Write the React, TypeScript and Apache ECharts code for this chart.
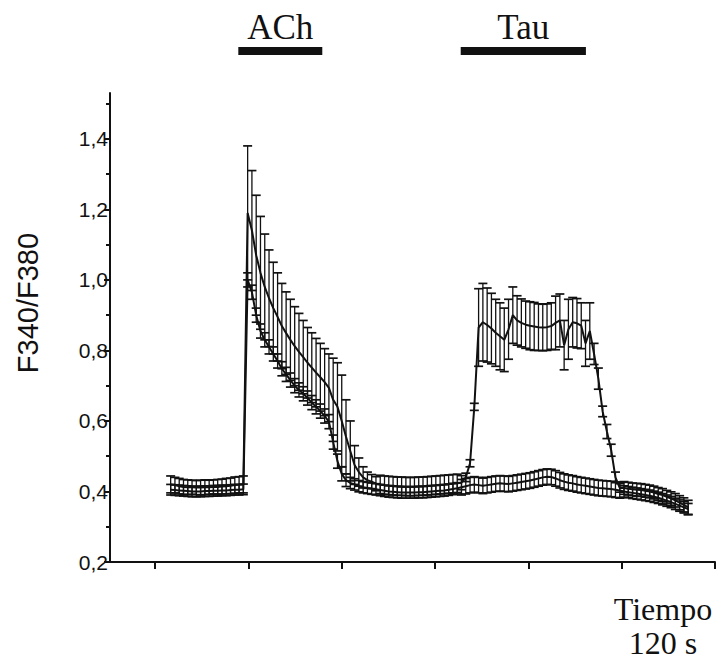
import { useEffect, useRef } from "react";
import * as echarts from "echarts";

// sampling of the recording (seconds)
const SAMPLE_START = 20;
const SAMPLE_STEP = 5.5;

// Cells responding to ACh and Tau: mean and SEM
const aMean = [
  0.420, 0.418, 0.415, 0.413, 0.412, 0.412, 0.411, 0.411, 0.412, 0.412, 0.413, 0.413, 0.414, 0.415, 0.416, 0.418, 0.419, 0.420,
  1.19, 1.14, 1.07, 1.02, 0.98, 0.948, 0.92, 0.895, 0.869, 0.849, 0.83, 0.812, 0.796, 0.781, 0.765, 0.751, 0.737, 0.724, 0.71, 0.694,
  0.66, 0.64, 0.60, 0.555, 0.515, 0.475, 0.455, 0.44, 0.432, 0.428, 0.422,
  0.42, 0.418, 0.417, 0.416, 0.415, 0.415, 0.414, 0.414, 0.414, 0.415, 0.415, 0.416, 0.417, 0.418, 0.419, 0.42, 0.421, 0.422, 0.423,
  0.425, 0.44, 0.48, 0.64, 0.865, 0.88, 0.872, 0.862, 0.85, 0.84, 0.83, 0.86, 0.90, 0.885, 0.878, 0.873, 0.87, 0.868, 0.866, 0.865,
  0.866, 0.869, 0.878, 0.885, 0.815, 0.86, 0.88, 0.877, 0.87, 0.82, 0.855, 0.79, 0.72, 0.627, 0.57, 0.517, 0.44, 0.41,
  0.41, 0.408, 0.406, 0.405, 0.404, 0.402, 0.40, 0.397, 0.393, 0.39, 0.385, 0.38, 0.375, 0.368, 0.362, 0.355,
];
const aErr = [
  0.024, 0.022, 0.022, 0.021, 0.021, 0.02, 0.02, 0.021, 0.021, 0.02, 0.02, 0.021, 0.021, 0.022, 0.022, 0.023, 0.023, 0.024,
  0.19, 0.17, 0.17, 0.16, 0.15, 0.137, 0.13, 0.125, 0.121, 0.117, 0.115, 0.112, 0.109, 0.104, 0.10, 0.099, 0.097, 0.096, 0.095, 0.096,
  0.118, 0.125, 0.13, 0.105, 0.085, 0.055, 0.04, 0.03, 0.023, 0.02, 0.02,
  0.026, 0.026, 0.026, 0.026, 0.026, 0.026, 0.026, 0.026, 0.026, 0.026, 0.026, 0.026, 0.026, 0.026, 0.026, 0.026, 0.026, 0.026, 0.026,
  0.02, 0.012, 0.01, 0.01, 0.11, 0.11, 0.105, 0.10, 0.095, 0.095, 0.09, 0.085, 0.08, 0.07, 0.068, 0.067, 0.068, 0.068, 0.066, 0.066,
  0.066, 0.066, 0.076, 0.075, 0.07, 0.085, 0.07, 0.07, 0.065, 0.065, 0.08, 0.03, 0.03, 0.015, 0.02, 0.017, 0.015, 0.012,
  0.018, 0.018, 0.018, 0.018, 0.018, 0.018, 0.018, 0.018, 0.018, 0.018, 0.018, 0.019, 0.019, 0.02, 0.02, 0.02,
];

// Cells responding to ACh only: mean and SEM
const bMean = [
  0.405, 0.404, 0.403, 0.402, 0.401, 0.400, 0.400, 0.400, 0.401, 0.401, 0.402, 0.402, 0.403, 0.403, 0.404, 0.405, 0.405, 0.406,
  1.0, 0.965, 0.9, 0.855, 0.83, 0.81, 0.79, 0.77, 0.748, 0.732, 0.716, 0.70, 0.688, 0.677, 0.665, 0.652, 0.64, 0.628, 0.614, 0.598,
  0.54, 0.486, 0.45, 0.432, 0.424, 0.42,
  0.415, 0.412, 0.41, 0.408, 0.406, 0.404, 0.402, 0.400, 0.399, 0.398, 0.397, 0.397, 0.397, 0.397, 0.398, 0.398, 0.399, 0.400,
  0.401, 0.402, 0.403, 0.405, 0.407, 0.409,
  0.412, 0.415, 0.418, 0.42, 0.418, 0.416, 0.418, 0.42, 0.422, 0.423, 0.422, 0.421, 0.423, 0.425, 0.427, 0.429, 0.431, 0.434, 0.437,
  0.44, 0.442, 0.441, 0.437, 0.432, 0.428, 0.425, 0.423, 0.42, 0.418, 0.416, 0.414, 0.412, 0.41, 0.409, 0.408, 0.407, 0.405, 0.403,
  0.40, 0.398, 0.396, 0.394, 0.392, 0.39, 0.388, 0.385, 0.382, 0.378, 0.374, 0.37, 0.365, 0.36, 0.355, 0.35,
];
const bErr = [
  0.015, 0.015, 0.015, 0.015, 0.015, 0.015, 0.015, 0.015, 0.015, 0.015, 0.015, 0.015, 0.015, 0.015, 0.015, 0.015, 0.015, 0.015,
  0.02, 0.02, 0.02, 0.02, 0.02, 0.02, 0.02, 0.02, 0.02, 0.02, 0.02, 0.02, 0.02, 0.02, 0.02, 0.02, 0.02, 0.02, 0.02, 0.02,
  0.02, 0.02, 0.02, 0.018, 0.016, 0.016,
  0.016, 0.016, 0.016, 0.016, 0.016, 0.016, 0.016, 0.016, 0.016, 0.016, 0.016, 0.016, 0.016, 0.016, 0.016, 0.016, 0.016, 0.016,
  0.016, 0.016, 0.016, 0.016, 0.016, 0.016,
  0.022, 0.022, 0.022, 0.022, 0.022, 0.022, 0.022, 0.022, 0.022, 0.022, 0.022, 0.022, 0.022, 0.022, 0.022, 0.022, 0.022, 0.022, 0.022,
  0.022, 0.022, 0.022, 0.022, 0.022, 0.022, 0.022, 0.022, 0.022, 0.022, 0.022, 0.022, 0.022, 0.022, 0.022, 0.022, 0.022, 0.022, 0.022,
  0.016, 0.016, 0.016, 0.016, 0.016, 0.016, 0.016, 0.016, 0.016, 0.016, 0.016, 0.016, 0.016, 0.016, 0.016, 0.016,
];

const yMajorTicks = [0.2, 0.4, 0.6, 0.8, 1.0, 1.2, 1.4];
const yMinorTicks = [0.3, 0.5, 0.7, 0.9, 1.1, 1.3, 1.5];
const xTicks = [0, 120, 240, 360, 480, 600, 720];

const stimNames = ["ACh", "Tau"];
const stimStart = [107, 393];
const stimEnd = [215, 554];

const INK = "#111";

export default function App() {
  const ref = useRef<HTMLDivElement>(null);

  useEffect(() => {
    document.body.style.margin = "0";
    const chart = echarts.init(ref.current as HTMLDivElement, null, { renderer: "svg" });
    const times = aMean.map((_, i) => SAMPLE_START + i * SAMPLE_STEP);

    const errorSeries = (mean: number[], err: number[], z: number) => ({
      type: "custom",
      z,
      silent: true,
      data: mean.map((m, i) => [times[i], m - err[i], m + err[i]]),
      encode: { x: 0, y: [1, 2] },
      renderItem: (_params: any, api: any) => {
        const t = api.value(0);
        const lo = api.coord([t, api.value(1)]);
        const hi = api.coord([t, api.value(2)]);
        const w = 4.5;
        const bar = { stroke: INK, lineWidth: 1.3 };
        const cap = { stroke: INK, lineWidth: 1.7 };
        return {
          type: "group",
          children: [
            { type: "line", shape: { x1: lo[0], y1: lo[1], x2: hi[0], y2: hi[1] }, style: bar },
            { type: "line", shape: { x1: lo[0] - w, y1: lo[1], x2: lo[0] + w, y2: lo[1] }, style: cap },
            { type: "line", shape: { x1: hi[0] - w, y1: hi[1], x2: hi[0] + w, y2: hi[1] }, style: cap },
          ],
        };
      },
    });

    const meanSeries = (mean: number[], z: number) => ({
      type: "line",
      z,
      silent: true,
      showSymbol: false,
      symbol: "none",
      data: mean.map((m, i) => [times[i], m]),
      lineStyle: { color: INK, width: 2 },
    });

    const axisLineStyle = { color: INK, width: 2 };

    chart.setOption({
      animation: false,
      grid: { left: 110, right: 2, top: 93, bottom: 101 },
      xAxis: {
        type: "value",
        min: -58,
        max: 720,
        axisLine: { onZero: false, lineStyle: axisLineStyle },
        axisTick: { show: true, customValues: xTicks, length: 7, lineStyle: axisLineStyle },
        axisLabel: { show: false },
        splitLine: { show: false },
      },
      yAxis: [
        {
          type: "value",
          min: 0.2,
          max: 1.53,
          axisLine: { show: true, onZero: false, lineStyle: axisLineStyle },
          axisTick: { show: true, customValues: yMajorTicks, length: 6, lineStyle: axisLineStyle },
          axisLabel: {
            customValues: yMajorTicks,
            formatter: (v: number) => v.toFixed(1).replace(".", ","),
            fontSize: 21,
            fontFamily: "Liberation Sans",
            color: INK,
            margin: 2,
          },
          splitLine: { show: false },
        },
        {
          type: "value",
          min: 0.2,
          max: 1.53,
          position: "left",
          axisLine: { show: false, onZero: false },
          axisTick: { show: true, customValues: yMinorTicks, length: 4, lineStyle: { color: INK, width: 2 } },
          axisLabel: { show: false },
          splitLine: { show: false },
        },
      ],
      series: [
        errorSeries(bMean, bErr, 2),
        meanSeries(bMean, 3),
        errorSeries(aMean, aErr, 4),
        meanSeries(aMean, 5),
      ],
    });

    const serif = "Liberation Serif";
    const graphics: any[] = [
      {
        type: "text",
        x: 28,
        y: 303,
        rotation: Math.PI / 2,
        style: {
          text: "F340/F380",
          fontSize: 29,
          fontFamily: "Liberation Sans",
          fill: INK,
          textAlign: "center",
          textVerticalAlign: "middle",
        },
      },
      {
        type: "text",
        x: 663,
        y: 609,
        style: { text: "Tiempo", fontSize: 32, fontFamily: serif, fill: INK, textAlign: "center", textVerticalAlign: "middle" },
      },
      {
        type: "text",
        x: 663,
        y: 643,
        style: { text: "120 s", fontSize: 32, fontFamily: serif, fill: INK, textAlign: "center", textVerticalAlign: "middle" },
      },
    ];
    stimNames.forEach((name, k) => {
      const x0 = chart.convertToPixel({ xAxisIndex: 0 }, stimStart[k]) as number;
      const x1 = chart.convertToPixel({ xAxisIndex: 0 }, stimEnd[k]) as number;
      graphics.push({
        type: "rect",
        shape: { x: x0, y: 47, width: x1 - x0, height: 8 },
        style: { fill: INK },
      });
      graphics.push({
        type: "text",
        x: (x0 + x1) / 2,
        y: 27,
        style: { text: name, fontSize: 35, fontFamily: serif, fill: INK, textAlign: "center", textVerticalAlign: "middle" },
      });
    });
    chart.setOption({ graphic: graphics });

    return () => {
      chart.dispose();
    };
  }, []);

  return <div ref={ref} style={{ width: 717, height: 663 }} />;
}
